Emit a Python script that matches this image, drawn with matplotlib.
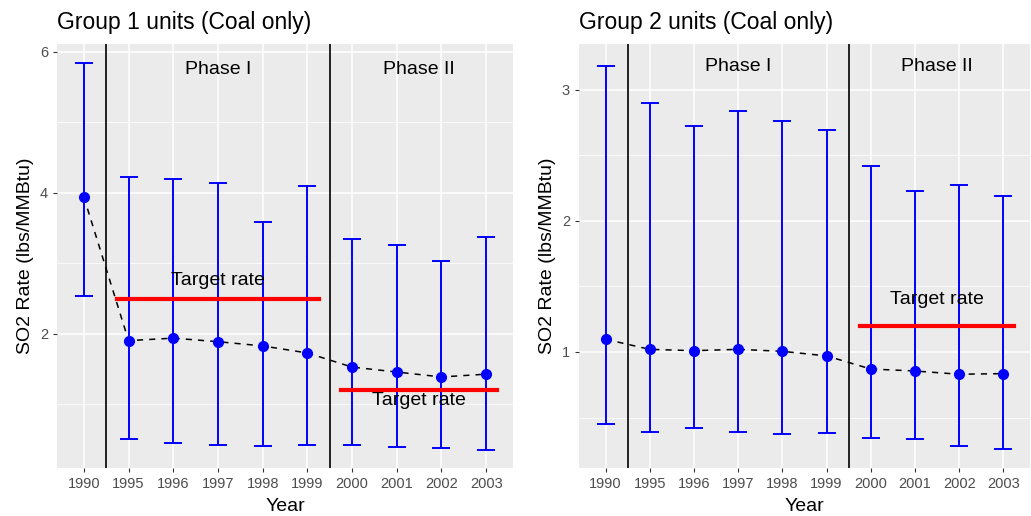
import numpy as np
import matplotlib.pyplot as plt

plt.rcParams['font.family'] = ['Liberation Sans', 'DejaVu Sans']

years = ['1990', '1995', '1996', '1997', '1998', '1999', '2000', '2001', '2002', '2003']

# Group 1 units
g1_mean = [3.94, 1.905, 1.94, 1.89, 1.83, 1.73, 1.53, 1.46, 1.39, 1.43]
g1_upper = [5.84, 4.22, 4.19, 4.14, 3.59, 4.10, 3.35, 3.26, 3.04, 3.38]
g1_lower = [2.54, 0.51, 0.46, 0.42, 0.41, 0.43, 0.43, 0.40, 0.38, 0.36]
g1_target = [2.5, 1.2]

# Group 2 units
g2_mean = [1.097, 1.02, 1.01, 1.02, 1.005, 0.97, 0.87, 0.855, 0.83, 0.835]
g2_upper = [3.18, 2.90, 2.725, 2.84, 2.765, 2.69, 2.42, 2.23, 2.27, 2.19]
g2_lower = [0.45, 0.39, 0.42, 0.39, 0.375, 0.38, 0.345, 0.34, 0.28, 0.26]
g2_target = [None, 1.2]


def draw_panel(ax, title, mean, upper, lower, target, ylim, yticks, yminor,
               phase_y, target_text_pos):
    x = np.arange(len(years))
    mean = np.array(mean)
    yerr = [mean - np.array(lower), np.array(upper) - mean]

    ax.set_facecolor('#EBEBEB')
    for s in ax.spines.values():
        s.set_visible(False)
    ax.set_xlim(-0.6, len(years) - 0.4)
    ax.set_ylim(*ylim)
    ax.set_yticks(yticks)
    ax.set_yticks(yminor, minor=True)
    ax.set_xticks(x)
    ax.set_xticklabels(years)
    ax.grid(True, which='major', color='white', lw=1.1)
    ax.grid(True, which='minor', axis='y', color='white', lw=0.55)
    ax.set_axisbelow(True)
    ax.tick_params(which='major', colors='#333333', labelcolor='#4D4D4D',
                   labelsize=10.5, length=3, width=0.8)
    ax.tick_params(which='minor', length=0)

    ax.errorbar(x, mean, yerr=yerr, fmt='none', ecolor='blue', elinewidth=1.4,
                capsize=6.2, capthick=1.4, zorder=3)
    ax.plot(x, mean, ls='--', color='black', lw=1.1, dashes=(4, 4), zorder=4)
    ax.plot(x, mean, 'o', color='blue', ms=7, zorder=5)

    ax.axvline(0.5, color='black', lw=1.2, zorder=4)
    ax.axvline(5.5, color='black', lw=1.2, zorder=4)

    if target[0] is not None:
        ax.plot([0.75, 5.25], [target[0], target[0]], color='red', lw=3, zorder=6)
    if target[1] is not None:
        ax.plot([5.75, 9.25], [target[1], target[1]], color='red', lw=3, zorder=6)
    for tx, ty in target_text_pos:
        ax.text(tx, ty, 'Target rate', ha='center', va='center', fontsize=14, zorder=7)

    ax.text(3, phase_y, 'Phase I', ha='center', va='center', fontsize=14)
    ax.text(7.5, phase_y, 'Phase II', ha='center', va='center', fontsize=14)

    ax.set_title(title, loc='left', fontsize=16.5, pad=11)
    ax.set_xlabel('Year', fontsize=14, labelpad=5)
    ax.set_ylabel('SO2 Rate (lbs/MMBtu)', fontsize=14, labelpad=4)


fig = plt.figure(figsize=(10.31, 5.16), dpi=100)
ax1 = fig.add_axes([0.0553, 0.093, 0.4423, 0.822])
ax2 = fig.add_axes([0.5616, 0.093, 0.4374, 0.822])

draw_panel(ax1, 'Group 1 units (Coal only)', g1_mean, g1_upper, g1_lower, g1_target,
           (0.10, 6.11), [2, 4, 6], [1, 3, 5], 5.75, [(3, 2.75), (7.5, 1.05)])
draw_panel(ax2, 'Group 2 units (Coal only)', g2_mean, g2_upper, g2_lower, g2_target,
           (0.115, 3.35), [1, 2, 3], [0.5, 1.5, 2.5], 3.18, [(7.5, 1.4)])

fig.savefig('out.png', dpi=100)
